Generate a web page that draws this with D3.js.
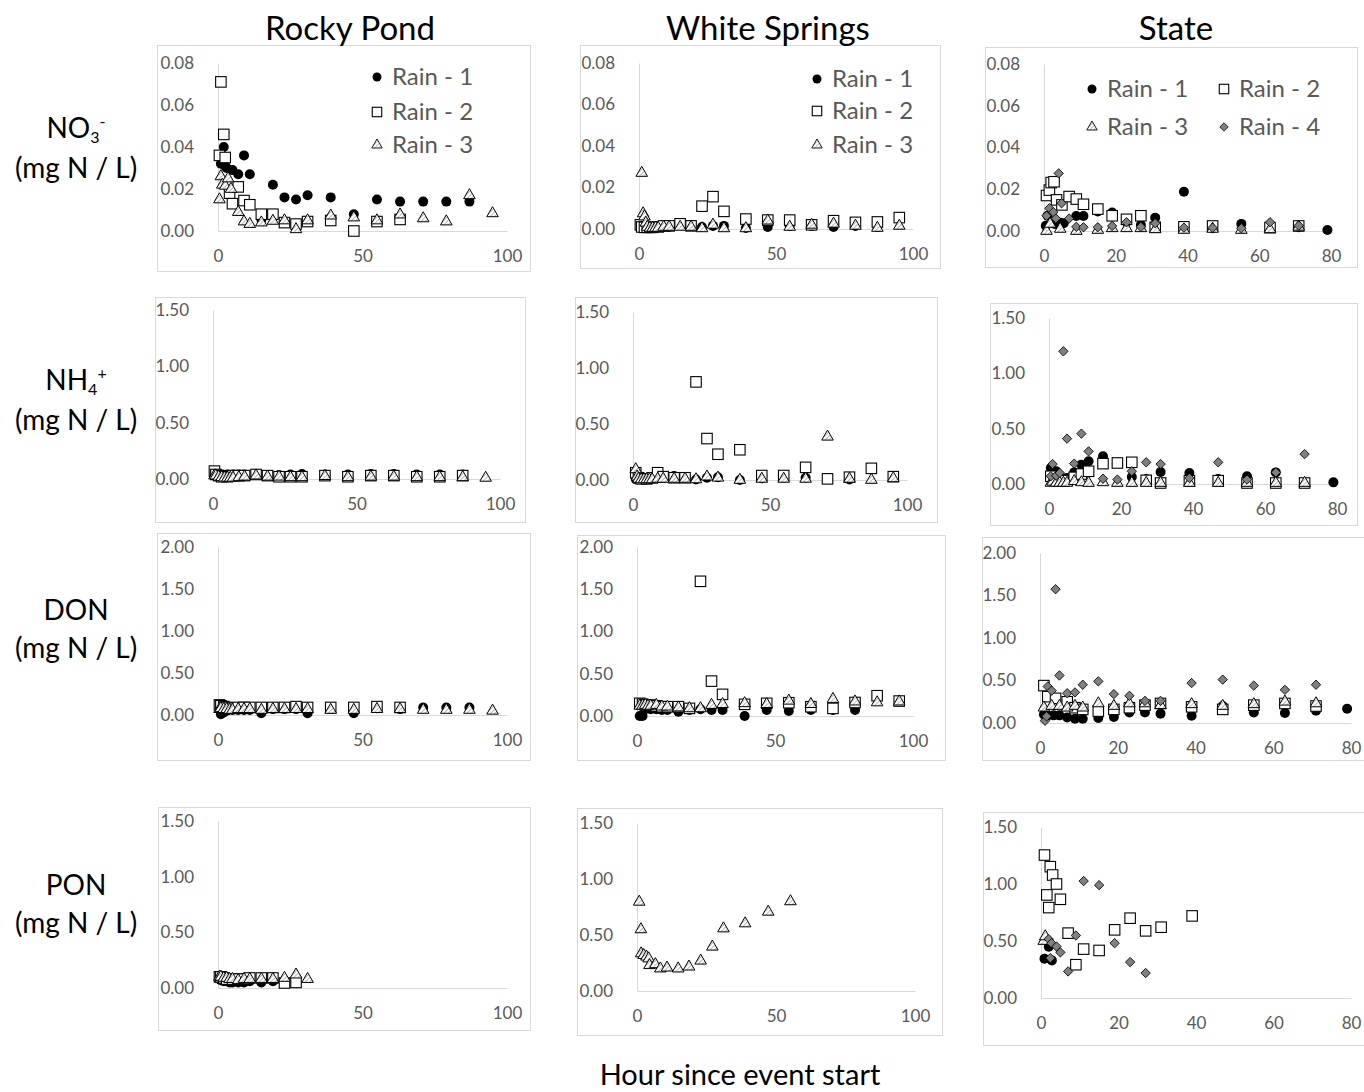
<!DOCTYPE html>
<meta charset="utf-8">
<script src="https://d3js.org/d3.v7.min.js"></script>
<style>
  body { margin: 0; background: #fff; }
  text { font-family: Lato, "Open Sans", sans-serif; }
</style>
<div id="chart"></div>
<script>

// ---- data: [hour, mg N / L] ----
const rpNO3_r1 = [[1,0.032],[2,0.040],[2.5,0.031],[3,0.030],[5,0.029],[7,0.027],[9,0.036],[11,0.027],[15,0.0055],[19,0.022],[23,0.016],[27,0.015],[31,0.017],[39,0.016],[47,0.008],[55,0.015],[63,0.014],[71,0.014],[79,0.014],[87,0.014]];
const rpNO3_r2 = [[0.5,0.036],[1,0.071],[2,0.046],[2.5,0.035],[4,0.018],[5,0.013],[7,0.021],[9,0.0145],[11,0.0125],[15,0.008],[19,0.008],[23,0.004],[27,0.0033],[31,0.0045],[39,0.005],[47,0.0],[55,0.0045],[63,0.0055]];
const rpNO3_r3 = [[0.5,0.015],[1,0.026],[1.5,0.022],[2.5,0.0215],[3.5,0.025],[4.5,0.020],[7,0.009],[9,0.0045],[11,0.0033],[15,0.004],[19,0.0048],[23,0.005],[27,0.0008],[31,0.005],[39,0.0073],[47,0.0064],[55,0.005],[63,0.0078],[71,0.006],[79,0.0045],[87,0.017],[95,0.0084]];

const wsNO3_r1 = [[0.5,0.0005],[1,0.0008],[2,0.0005],[3,0.0005],[4,0.0005],[5,0.0005],[7,0.001],[9,0.001],[11,0.001],[15,0.002],[19,0.0015],[23,0.001],[27,0.0015],[31,0.0015],[39,0.0005],[47,0.001],[55,0.0015],[63,0.0015],[71,0.001],[79,0.0015],[87,0.001]];
const wsNO3_r2 = [[0.5,0.002],[1,0.001],[2,0.0008],[3,0.0008],[4,0.0008],[5,0.0008],[7,0.001],[9,0.0015],[11,0.0015],[15,0.0025],[19,0.0015],[23,0.011],[27,0.0156],[31,0.0085],[39,0.0048],[47,0.0043],[55,0.0043],[63,0.002],[71,0.004],[79,0.0032],[87,0.0034],[95,0.0055]];
const wsNO3_r3 = [[1,0.027],[1.5,0.0075],[2,0.006],[2.5,0.003],[3,0.001],[4,0.0005],[5,0.0005],[6,0.0005],[7,0.0005],[9,0.001],[11,0.001],[15,0.001],[19,0.001],[23,0.0003],[27,0.002],[31,0.0003],[39,0.0003],[47,0.004],[55,0.001],[63,0.002],[71,0.0025],[79,0.0015],[87,0.0005],[95,0.0015]];

const stNO3_r1 = [[0.5,0.0025],[1,0.0073],[3,0.0034],[4.5,0.004],[5.5,0.0037],[9,0.0072],[11,0.0072],[15,0.0093],[19,0.0089],[23,0.0045],[27,0.0029],[31,0.0064],[39,0.0188],[47,0.0013],[55,0.0034],[63,0.0029],[71,0.0018],[79,0.0005]];
const stNO3_r2 = [[0.7,0.017],[1.5,0.0196],[2,0.0232],[2.8,0.0236],[3.5,0.0149],[5,0.0125],[7,0.0165],[9,0.0153],[11,0.0128],[15,0.0105],[19,0.0073],[23,0.0056],[27,0.0073],[31,0.0018],[39,0.002],[47,0.0024],[63,0.0016],[71,0.0024]];
const stNO3_r3 = [[0.7,0.0],[1.7,0.0034],[4.5,0.001],[9,0.0],[15,0.0005],[19,0.0013],[23,0.0013],[27,0.0013],[31,0.0008],[39,0.0005],[47,0.001],[55,0.0005],[63,0.0008],[71,0.002]];
const stNO3_r4 = [[0.7,0.0073],[1.5,0.0109],[2.6,0.009],[3.3,0.006],[4.1,0.0276],[4.9,0.0133],[7,0.006],[9,0.002],[11,0.0018],[15,0.0018],[19,0.0024],[23,0.0042],[27,0.002],[31,0.0037],[39,0.0016],[47,0.0016],[55,0.0013],[63,0.0042],[71,0.0026]];

const rpNH4_r1 = [[1,0.04],[2,0.04],[3,0.04],[4,0.035],[5,0.04],[7,0.04],[9,0.04],[11,0.04],[15,0.045],[19,0.035],[23,0.035],[27,0.04],[31,0.045],[39,0.04],[47,0.04],[55,0.045],[63,0.045],[71,0.04],[79,0.04],[87,0.04]];
const rpNH4_r2 = [[0.5,0.07],[1,0.04],[2,0.03],[3,0.02],[5,0.02],[7,0.03],[9,0.03],[11,0.03],[15,0.04],[19,0.03],[23,0.02],[27,0.02],[31,0.02],[39,0.03],[47,0.02],[55,0.03],[63,0.03],[71,0.02],[79,0.02],[87,0.03]];
const rpNH4_r3 = [[0.5,0.03],[1,0.03],[2,0.02],[3,0.015],[4,0.01],[5,0.01],[6,0.01],[7,0.01],[9,0.015],[11,0.02],[15,0.03],[19,0.02],[23,0.02],[27,0.015],[31,0.015],[39,0.025],[47,0.015],[55,0.02],[63,0.02],[71,0.015],[79,0.015],[87,0.015],[95,0.01]];

const wsNH4_r1 = [[1,0.01],[2,0.01],[3,0.01],[4,0.01],[5,0.01],[7,0.015],[9,0.015],[11,0.02],[15,0.035],[19,0.015],[23,0.005],[27,0.02],[31,0.025],[39,0.0],[47,0.015],[55,0.02],[63,0.02],[71,0.01],[79,0.005]];
const wsNH4_r2 = [[1,0.065],[2,0.02],[3,0.01],[5,0.01],[7,0.02],[9,0.065],[11,0.03],[15,0.02],[19,0.02],[23,0.876],[27,0.37],[31,0.23],[39,0.27],[47,0.04],[55,0.04],[63,0.113],[71,0.01],[79,0.025],[87,0.104],[95,0.03]];
const wsNH4_r3 = [[1,0.095],[1.5,0.03],[2,0.01],[3,0.005],[4,0.005],[5,0.005],[6,0.005],[7,0.005],[9,0.01],[11,0.01],[15,0.01],[19,0.01],[23,0.005],[27,0.03],[31,0.02],[39,0.0],[47,0.01],[55,0.01],[63,0.01],[71,0.386],[79,0.01],[87,0.0],[95,0.015]];

const stNH4_r1 = [[0.5,0.145],[2,0.115],[3,0.07],[5,0.054],[7,0.105],[9,0.175],[11,0.205],[15,0.25],[19,0.19],[23,0.063],[27,0.045],[31,0.108],[39,0.1],[47,0.045],[55,0.07],[63,0.105],[79,0.015]];
const stNH4_r2 = [[0.5,0.07],[2,0.04],[4,0.03],[7,0.06],[9,0.09],[11,0.115],[15,0.184],[19,0.19],[23,0.196],[27,0.033],[31,0.009],[39,0.03],[47,0.03],[55,0.009],[63,0.009],[71,0.009]];
const stNH4_r3 = [[0.5,0.01],[1,0.02],[2,0.01],[3,0.01],[4,0.01],[5,0.01],[7,0.025],[9,0.015],[11,0.009],[15,0.015],[19,0.009],[23,0.009],[27,0.009],[31,0.009],[39,0.009],[47,0.009],[55,0.009],[63,0.009],[71,0.009]];
const stNH4_r4 = [[0.5,0.07],[1,0.18],[2,0.075],[3,0.1],[4,1.199],[5,0.41],[7,0.184],[9,0.455],[11,0.295],[15,0.048],[19,0.04],[23,0.115],[27,0.196],[31,0.18],[39,0.054],[47,0.196],[55,0.04],[63,0.105],[71,0.27]];

const rpDON_r1 = [[1,0.01],[2,0.03],[3,0.05],[5,0.06],[7,0.06],[9,0.06],[11,0.06],[15,0.02],[19,0.07],[23,0.07],[27,0.07],[31,0.02],[39,0.07],[47,0.02],[55,0.08],[63,0.07],[71,0.09],[79,0.09],[87,0.09]];
const rpDON_r2 = [[0.5,0.12],[1,0.11],[2,0.1],[3,0.09],[5,0.08],[7,0.09],[9,0.09],[11,0.09],[15,0.09],[19,0.09],[23,0.09],[27,0.1],[31,0.09],[39,0.09],[47,0.09],[55,0.1],[63,0.09]];
const rpDON_r3 = [[0.5,0.07],[1,0.08],[2,0.07],[3,0.07],[4,0.06],[5,0.06],[7,0.07],[9,0.07],[11,0.07],[15,0.06],[19,0.07],[23,0.07],[27,0.07],[31,0.07],[39,0.06],[47,0.06],[55,0.07],[63,0.07],[71,0.06],[79,0.06],[87,0.06],[95,0.05]];

const wsDON_r1 = [[1,0.0],[2,0.0],[3,0.08],[5,0.08],[7,0.08],[9,0.07],[11,0.07],[15,0.05],[19,0.07],[23,0.08],[27,0.07],[31,0.07],[39,0.0],[47,0.07],[55,0.06],[63,0.07],[71,0.07],[79,0.07]];
const wsDON_r2 = [[1,0.15],[2,0.14],[3,0.13],[5,0.13],[7,0.12],[9,0.11],[11,0.11],[15,0.11],[19,0.09],[23,1.594],[27,0.413],[31,0.256],[39,0.138],[47,0.15],[55,0.157],[63,0.11],[71,0.09],[79,0.16],[87,0.24],[95,0.177]];
const wsDON_r3 = [[1,0.12],[2,0.12],[3,0.13],[4,0.12],[5,0.12],[7,0.13],[9,0.11],[11,0.11],[15,0.1],[19,0.09],[23,0.09],[27,0.13],[31,0.14],[39,0.15],[47,0.14],[55,0.18],[63,0.14],[71,0.2],[79,0.17],[87,0.16],[95,0.17]];

const stDON_r1 = [[1,0.1],[2,0.09],[3.5,0.09],[5,0.09],[7,0.066],[9,0.05],[11,0.05],[15,0.06],[19,0.07],[23,0.125],[27,0.125],[31,0.11],[39,0.086],[47,0.2],[55,0.125],[63,0.117],[71,0.145],[79,0.168]];
const stDON_r2 = [[1,0.44],[2,0.31],[4,0.29],[7,0.25],[9,0.18],[11,0.16],[15,0.14],[19,0.16],[23,0.18],[27,0.21],[31,0.23],[39,0.19],[47,0.16],[55,0.21],[63,0.23],[71,0.2]];
const stDON_r3 = [[1,0.18],[3,0.2],[5,0.2],[7,0.18],[9,0.2],[11,0.18],[15,0.23],[19,0.2],[23,0.23],[27,0.23],[31,0.21],[39,0.22],[47,0.2],[55,0.22],[63,0.25],[71,0.23]];
const stDON_r4 = [[1.3,0.027],[1.7,0.078],[2,0.43],[3,0.38],[4,1.574],[5,0.559],[7,0.35],[9,0.36],[11,0.45],[15,0.49],[19,0.34],[23,0.32],[27,0.26],[31,0.26],[39,0.47],[47,0.51],[55,0.44],[63,0.39],[71,0.45]];

const rpPON_r1 = [[0.5,0.08],[1,0.07],[2,0.06],[3,0.06],[4,0.05],[5,0.05],[7,0.05],[9,0.05],[11,0.06],[15,0.05],[19,0.06]];
const rpPON_r2 = [[0.5,0.1],[1,0.1],[2,0.09],[3,0.08],[5,0.08],[7,0.08],[9,0.08],[11,0.09],[15,0.09],[19,0.09],[23,0.045],[27,0.05]];
const rpPON_r3 = [[0.5,0.1],[1,0.1],[2,0.09],[3,0.09],[4,0.08],[5,0.08],[7,0.07],[9,0.08],[11,0.08],[15,0.08],[19,0.08],[23,0.09],[27,0.12],[31,0.08]];

const wsPON_r3 = [[0.8,0.796],[1.4,0.55],[1.5,0.335],[2.4,0.32],[3.4,0.306],[4.2,0.29],[4.5,0.23],[6.6,0.238],[8.4,0.2],[10.8,0.208],[14.8,0.2],[18.7,0.217],[22.9,0.27],[27.1,0.395],[31.1,0.558],[38.9,0.603],[47.2,0.707],[55.2,0.8]];

const stPON_r1 = [[0.9,0.344],[2,0.45],[2.8,0.33]];
const stPON_r2 = [[0.9,1.254],[1.5,0.904],[2,0.793],[2.4,1.152],[3,1.079],[4,1.0],[5,0.866],[7,0.569],[9,0.292],[11,0.429],[15,0.417],[19,0.598],[23,0.7],[27,0.589],[31,0.621],[39,0.72]];
const stPON_r3 = [[0.7,0.5],[1.1,0.54]];
const stPON_r4 = [[2,0.516],[2.4,0.35],[2.7,0.481],[4,0.452],[5,0.4],[7,0.233],[9,0.548],[11,1.026],[15,0.99],[19,0.481],[23,0.315],[27,0.219]];

// tick labels
const xTicksLong = [0, 50, 100];
const xTicksState = [0, 20, 40, 60, 80];
const yTicksNO3 = [0, 0.02, 0.04, 0.06, 0.08];
const yTicks150 = [0, 0.5, 1.0, 1.5];
const yTicks200 = [0, 0.5, 1.0, 1.5, 2.0];

const sites = ["Rocky Pond", "White Springs", "State"];
const legendNames = ["Rain - 1", "Rain - 2", "Rain - 3", "Rain - 4"];

// ---- layout ----
const panels = [
  {box:[157,45,530,271], xr:[218,507], yr:[231,63], xmax:100, ymax:0.08, xt:xTicksLong, yt:yTicksNO3, s:[rpNO3_r1,rpNO3_r2,rpNO3_r3],
   legend:{items:[0,1,2], pos:[[377,77],[377,112],[377,145]]}},
  {box:[580,45,940,268], xr:[639,913], yr:[229,63], xmax:100, ymax:0.08, xt:xTicksLong, yt:yTicksNO3, s:[wsNO3_r1,wsNO3_r2,wsNO3_r3],
   legend:{items:[0,1,2], pos:[[817,79],[817,111],[817,145]]}},
  {box:[985,47,1357,267], xr:[1044,1331], yr:[231,64], xmax:80, ymax:0.08, xt:xTicksState, yt:yTicksNO3, s:[stNO3_r1,stNO3_r2,stNO3_r3,stNO3_r4],
   legend:{items:[0,1,2,3], pos:[[1092,89],[1224,89],[1092,127],[1224,127]]}},

  {box:[155,297,525,522], xr:[213,500], yr:[479,310], xmax:100, ymax:1.5, xt:xTicksLong, yt:yTicks150, s:[rpNH4_r1,rpNH4_r2,rpNH4_r3]},
  {box:[575,297,937,522], xr:[633,907], yr:[480,312], xmax:100, ymax:1.5, xt:xTicksLong, yt:yTicks150, s:[wsNH4_r1,wsNH4_r2,wsNH4_r3]},
  {box:[990,303,1357,525], xr:[1049,1337], yr:[484,318], xmax:80, ymax:1.5, xt:xTicksState, yt:yTicks150, s:[stNH4_r1,stNH4_r2,stNH4_r3,stNH4_r4]},

  {box:[157,533,530,760], xr:[218,507], yr:[715,547], xmax:100, ymax:2.0, xt:xTicksLong, yt:yTicks200, s:[rpDON_r1,rpDON_r2,rpDON_r3]},
  {box:[577,535,945,760], xr:[637,913], yr:[716,547], xmax:100, ymax:2.0, xt:xTicksLong, yt:yTicks200, s:[wsDON_r1,wsDON_r2,wsDON_r3]},
  {box:[982,537,1366,760], xr:[1040,1351], yr:[723,553], xmax:80, ymax:2.0, xt:xTicksState, yt:yTicks200, s:[stDON_r1,stDON_r2,stDON_r3,stDON_r4]},

  {box:[158,807,530,1030], xr:[218,507], yr:[988,821], xmax:100, ymax:1.5, xt:xTicksLong, yt:yTicks150, s:[rpPON_r1,rpPON_r2,rpPON_r3]},
  {box:[577,808,942,1035], xr:[637,915], yr:[991,823], xmax:100, ymax:1.5, xt:xTicksLong, yt:yTicks150, s:[[],[],wsPON_r3]},
  {box:[983,812,1366,1045], xr:[1041,1351], yr:[998,827], xmax:80, ymax:1.5, xt:xTicksState, yt:yTicks150, s:[stPON_r1,stPON_r2,stPON_r3,stPON_r4]}
];

const svg = d3.select("#chart").append("svg")
  .attr("width", 1364)
  .attr("height", 1092);

// hatch used inside Excel-like triangles
const pat = svg.append("defs").append("pattern")
  .attr("id", "hatch")
  .attr("patternUnits", "userSpaceOnUse")
  .attr("width", 3).attr("height", 3)
  .attr("patternTransform", "rotate(45)");
pat.append("rect").attr("width", 3).attr("height", 3).attr("fill", "#fff");
pat.append("line").attr("x1", 0).attr("y1", 0).attr("x2", 0).attr("y2", 3)
  .attr("stroke", "#777").attr("stroke-width", 1);

const triPath = d3.symbol().type(d3.symbolTriangle).size(58)();
const diaPath = d3.symbol().type(d3.symbolSquare).size(44)();

// draw one marker of series k into selection g at (x,y)
function marker(g, k, x, y, scale) {
  scale = scale || 1;
  if (k === 0) {
    g.append("circle").attr("cx", x).attr("cy", y).attr("r", 5 * scale).attr("fill", "#000");
  } else if (k === 1) {
    const s = 10.5 * scale;
    g.append("rect").attr("x", x - s/2).attr("y", y - s/2).attr("width", s).attr("height", s)
      .attr("fill", "#fff").attr("stroke", "#000").attr("stroke-width", 1.1);
  } else if (k === 2) {
    g.append("path").attr("d", triPath)
      .attr("transform", `translate(${x},${y}) scale(${scale})`)
      .attr("fill", "url(#hatch)").attr("stroke", "#000").attr("stroke-width", 1);
  } else {
    g.append("path").attr("d", diaPath)
      .attr("transform", `translate(${x},${y}) rotate(45) scale(${scale})`)
      .attr("fill", "#808080").attr("stroke", "#000").attr("stroke-width", 0.8);
  }
}

panels.forEach(p => {
  const g = svg.append("g");

  g.append("rect")
    .attr("x", p.box[0] + 0.5).attr("y", p.box[1] + 0.5)
    .attr("width", p.box[2] - p.box[0]).attr("height", p.box[3] - p.box[1])
    .attr("fill", "#fff").attr("stroke", "#d9d9d9");

  const x = d3.scaleLinear().domain([0, p.xmax]).range(p.xr);
  const y = d3.scaleLinear().domain([0, p.ymax]).range(p.yr);

  // x axis
  const xa = g.append("g")
    .attr("transform", `translate(0,${p.yr[0]})`)
    .call(d3.axisBottom(x).tickValues(p.xt).tickSize(0).tickPadding(19).tickFormat(d3.format("d")));
  // y axis
  const ya = g.append("g")
    .attr("transform", `translate(${p.xr[0]},0)`)
    .call(d3.axisLeft(y).tickValues(p.yt).tickSize(0).tickPadding(24).tickFormat(d3.format(".2f")));

  [xa, ya].forEach(a => {
    a.select(".domain").attr("stroke", "#d9d9d9").attr("stroke-width", 1);
    a.selectAll("text").attr("fill", "#595959").style("font-size", "17px")
      .style("font-family", "Lato, 'Open Sans', sans-serif");
  });

  // points, series drawn in order so later rain events sit on top
  p.s.forEach((data, k) => {
    const sg = g.append("g");
    data.forEach(d => marker(sg, k, x(d[0]), y(d[1])));
  });

  if (p.legend) {
    const lg = g.append("g");
    p.legend.items.forEach((k, i) => {
      const [lx, ly] = p.legend.pos[i];
      marker(lg, k, lx, ly, 0.9);
      lg.append("text").attr("x", lx + 15).attr("y", ly).attr("dy", "0.35em")
        .attr("fill", "#595959").style("font-size", "24px").text(legendNames[k]);
    });
  }
});

// column titles
const titleX = [350, 768, 1176];
sites.forEach((s, i) => {
  svg.append("text").attr("x", titleX[i]).attr("y", 28).attr("dy", "0.35em")
    .attr("text-anchor", "middle").style("font-size", "33px").text(s);
});

// row labels
const rowLabels = [
  {main: "NO", sub: "3", sup: "-", y: 128},
  {main: "NH", sub: "4", sup: "+", y: 380},
  {main: "DON", y: 610},
  {main: "PON", y: 885}
];
rowLabels.forEach(r => {
  const t = svg.append("text").attr("x", 76).attr("y", r.y).attr("dy", "0.35em")
    .attr("text-anchor", "middle").style("font-size", "28px");
  t.append("tspan").text(r.main);
  if (r.sub) {
    t.append("tspan").attr("dy", "0.3em").style("font-size", "16px").text(r.sub);
    t.append("tspan").attr("dy", "-0.95em").style("font-size", "16px").text(r.sup);
  }
  svg.append("text").attr("x", 76).attr("y", (r.sub ? r.y + 40 : r.y + 38)).attr("dy", "0.35em")
    .attr("text-anchor", "middle").style("font-size", "28px").text("(mg N / L)");
});

svg.append("text").attr("x", 740).attr("y", 1075).attr("dy", "0.35em")
  .attr("text-anchor", "middle").style("font-size", "29px").text("Hour since event start");

</script>
